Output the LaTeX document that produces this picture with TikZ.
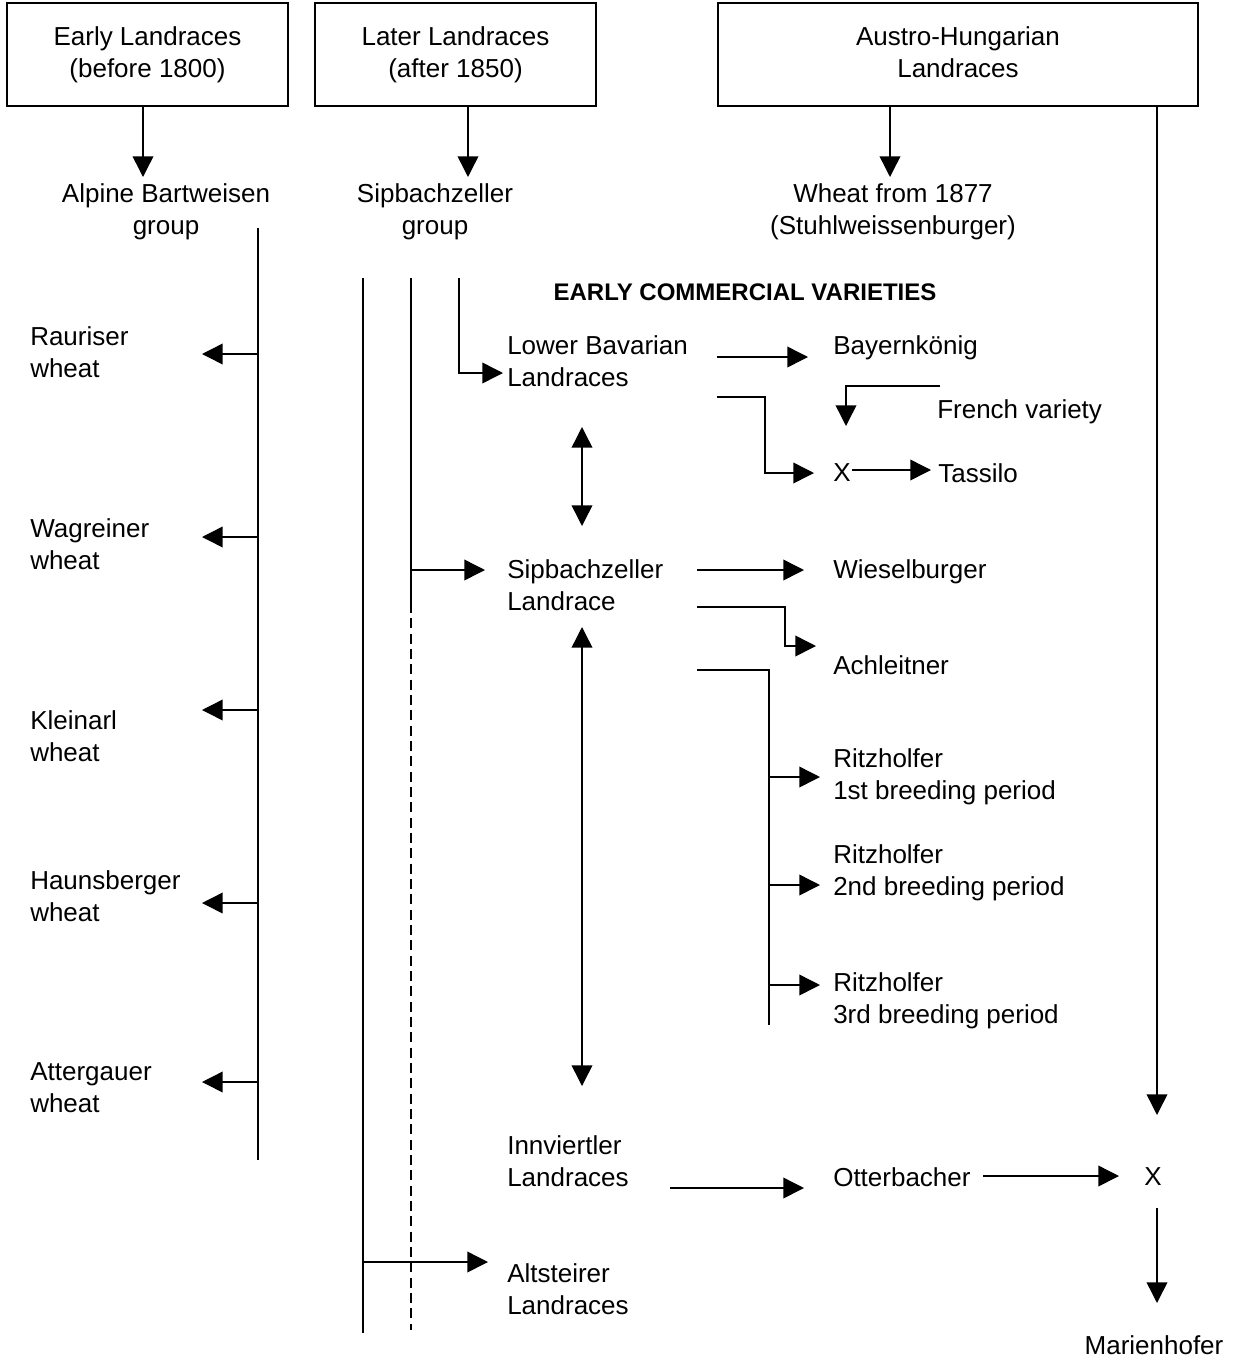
\documentclass[tikz,border=0pt]{standalone}
\usepackage{fontspec}
\setmainfont{Liberation Sans}
\usetikzlibrary{positioning, arrows.meta}

\begin{document}
\begin{tikzpicture}[x=0.75pt, y=-0.75pt,
  box/.style={draw, line width=1.1pt, minimum width=210.75pt, minimum height=77.25pt,
              align=center, font=\fontsize{19.5}{24}\selectfont},
  lbl/.style={align=left, inner sep=0pt, anchor=west, font=\fontsize{19.5}{24}\selectfont},
  grp/.style={align=center, inner sep=0pt, font=\fontsize{19.5}{24}\selectfont},
  link/.style={line width=1.1pt},
  arr/.style={link, -{Triangle[length=15.5pt, width=15.5pt]}},
  darr/.style={link, {Triangle[length=15.5pt, width=15.5pt]}-{Triangle[length=15.5pt, width=15.5pt]}},
]
  \useasboundingbox (0,0) rectangle (1242,1360);

  % Top row: source landraces
  \node[box] (early) at (147.5,54.5) {Early Landraces\\(before 1800)};
  \node[box] (later) at (455.5,54.5) {Later Landraces\\(after 1850)};
  \node[box, minimum width=360pt] (austro) at (958,54.5) {Austro-Hungarian\\Landraces\vphantom{(}};

  \node[grp] (alpine) at (166,212) {Alpine Bartweisen\\group};
  \node[grp] (sipgrp) at (435,212) {Sipbachzeller\\group};
  \node[grp] (wheat) at (893,212) {Wheat from 1877\\(Stuhlweissenburger)};
  \coordinate (a1) at (143,177);
  \coordinate (b1) at (468,177);
  \coordinate (c1) at (890,177);
  \coordinate (c2) at (1157,1115);
  \draw[arr] (early.south -| a1) -- (a1);
  \draw[arr] (later.south -| b1) -- (b1);
  \draw[arr] (austro.south -| c1) -- (c1);
  \draw[arr] (austro.south -| c2) -- (c2);

  % Left column: Alpine wheats
  \coordinate (t1) at (258,228);
  \coordinate (t2) at (258,1160);
  \draw[link] (t1) -- (t2);
  \foreach \n/\ly/\ay/\lab in {raur/352/354/{Rauriser\\wheat}, wagr/544/537/{Wagreiner\\wheat},
      klein/736/710/{Kleinarl\\wheat}, hauns/896/903/{Haunsberger\\wheat}, atter/1088/1082/{Attergauer\\wheat}} {
    \node[lbl] (\n) at (30,\ly) {\lab};
    \coordinate (\n-a) at (202,\ay);
    \draw[arr] (t1 |- \n-a) -- (\n-a);
  }

  % Middle trunks
  \coordinate (m1) at (363,278);
  \coordinate (m1b) at (363,1333);
  \coordinate (m2) at (411,278);
  \coordinate (m2m) at (411,603);
  \coordinate (m2b) at (411,1330);
  \coordinate (m3) at (459,278);
  \draw[link] (m1) -- (m1b);
  \draw[link] (m2) -- (m2m);
  \draw[line width=0.9pt, dash pattern=on 7.5pt off 4pt] (m2m) -- (m2b);

  \node[font=\bfseries\fontsize{18}{22}\selectfont, inner sep=0pt] (head) at (745,292) {EARLY COMMERCIAL VARIETIES};

  % Landraces and commercial varieties
  \node[lbl] (lowbav) at (507,361) {Lower Bavarian\\Landraces};
  \node[lbl] (sipland) at (507,585) {Sipbachzeller\\Landrace};
  \node[lbl] (innv) at (507,1161) {Innviertler\\Landraces};
  \node[lbl] (altst) at (507,1289) {Altsteirer\\Landraces};

  \node[lbl] (bayern) at (833,348) {Bayernkönig};
  \node[lbl] (french) at (937,412) {French variety};
  \node[lbl] (x1) at (833,473) {X};
  \node[lbl] (tassilo) at (938,473) {Tassilo};
  \node[lbl] (wiesel) at (833,572) {Wieselburger};
  \node[lbl] (achl) at (833,665) {Achleitner};
  \node[lbl] (ritz1) at (833,777) {Ritzholfer\\1st breeding period};
  \node[lbl] (ritz2) at (833,873) {Ritzholfer\\2nd breeding period};
  \node[lbl] (ritz3) at (833,1001) {Ritzholfer\\3rd breeding period};
  \node[lbl] (otter) at (833,1177) {Otterbacher};
  \node[lbl] (x2) at (1144,1177) {X};
  \node[grp] (marien) at (1154,1345) {Marienhofer};

  % Connectors
  \coordinate (lb-in) at (503,373);
  \draw[arr] (m3) |- (lb-in);
  \coordinate (sl-in) at (485,570);
  \draw[arr] (m2 |- sl-in) -- (sl-in);
  \coordinate (al-in) at (488,1262);
  \draw[arr] (m1 |- al-in) -- (al-in);

  \coordinate (lb-o1) at (717,357);
  \coordinate (by-in) at (808,357);
  \draw[arr] (lb-o1) -- (by-in);
  \coordinate (lb-o2) at (717,397);
  \coordinate (lb-k2) at (765,397);
  \coordinate (x1-in) at (814,473);
  \draw[arr] (lb-o2) -- (lb-k2) |- (x1-in);
  \coordinate (fr-o) at (940,386);
  \coordinate (fr-in) at (846,426);
  \draw[arr] (fr-o) -| (fr-in);
  \coordinate (x1-o) at (852,470);
  \coordinate (ta-in) at (931,470);
  \draw[arr] (x1-o) -- (ta-in);

  \coordinate (d1a) at (582,427);
  \coordinate (d1b) at (582,526);
  \draw[darr] (d1a) -- (d1b);
  \coordinate (d2a) at (582,627);
  \coordinate (d2b) at (582,1086);
  \draw[darr] (d2a) -- (d2b);

  \coordinate (sl-o1) at (697,570);
  \coordinate (wi-in) at (804,570);
  \draw[arr] (sl-o1) -- (wi-in);
  \coordinate (sl-o2) at (697,607);
  \coordinate (sl-k2) at (785,607);
  \coordinate (ac-in) at (816,646);
  \draw[arr] (sl-o2) -- (sl-k2) |- (ac-in);
  \coordinate (sl-o3) at (697,670);
  \coordinate (rz) at (769,670);
  \coordinate (rz-b) at (769,1025);
  \draw[link] (sl-o3) -- (rz) -- (rz-b);
  \foreach \y in {777,885,985} {
    \coordinate (rz-\y) at (820,\y);
    \draw[arr] (rz |- rz-\y) -- (rz-\y);
  }

  \coordinate (in-o) at (670,1188);
  \coordinate (ot-in) at (804,1188);
  \draw[arr] (in-o) -- (ot-in);
  \coordinate (ot-o) at (983,1176);
  \coordinate (x2-in) at (1119,1176);
  \draw[arr] (ot-o) -- (x2-in);
  \coordinate (x2-o) at (1157,1208);
  \coordinate (ma-in) at (1157,1303);
  \draw[arr] (x2-o) -- (ma-in);
\end{tikzpicture}
\end{document}
